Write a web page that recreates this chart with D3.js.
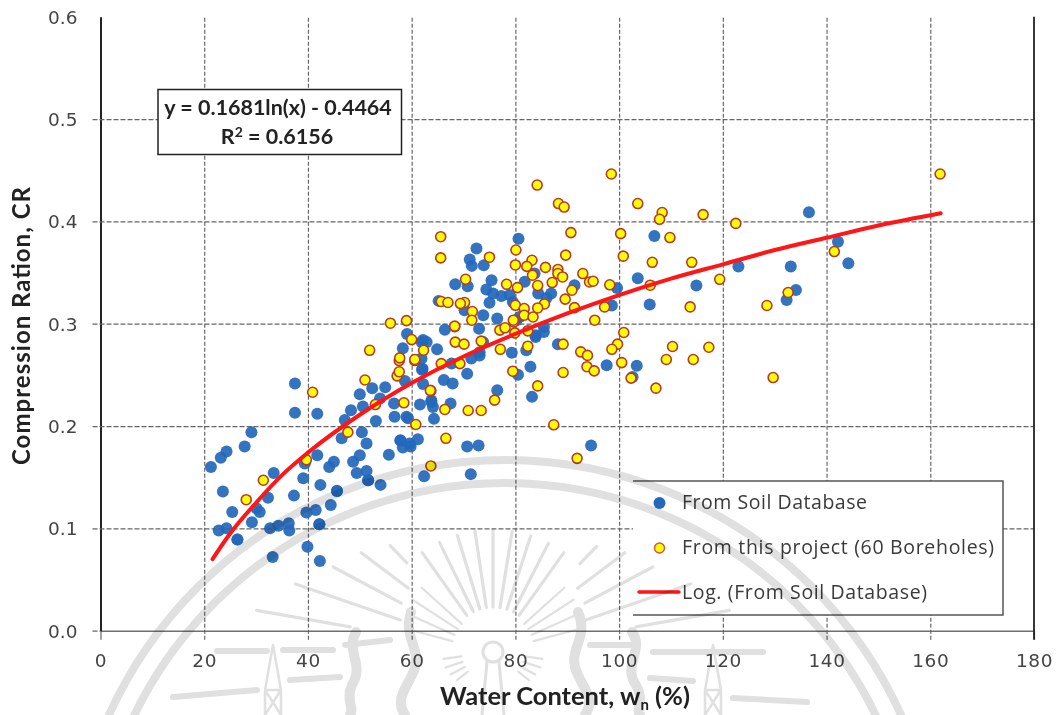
<!DOCTYPE html>
<html>
<head>
<meta charset="utf-8">
<script src="https://cdn.jsdelivr.net/npm/d3@7"></script>
<style>
body { margin: 0; background: #fff; }
svg { display: block; filter: blur(0.35px); }
</style>
</head>
<body>
<div id="chart"></div>
<script>
// VALUES: [water content, compression ratio]
var soilPoints = [[37.5,.2415],[37.5,.213],[41.8,.212],[29.1,.194],[27.8,.18],[24.3,.175],[23.2,.169],[21.3,.16],[23.6,.136],[25.4,.116],
  [22.8,.098],[24.3,.1],[26.4,.089],[26.4,.089],[29.2,.106],[30.7,.116],[30.1,.1195],[32.3,.13],[33.4,.154],[33.2,.072],[32.7,.1],[34.3,.1025],
  [36.3,.105],[36.4,.098],[37.3,.132],[39.1,.149],[39.4,.1635],[41.8,.1715],[42.4,.1425],[39.7,.1155],[41.5,.118],[44.4,.1228],[45.6,.1365],[45.6,.1365],
  [42.2,.104],[42.2,.104],[39.9,.082],[42.3,.068],[44.1,.16],[45,.165],[48.7,.165],[50,.1715],[51.3,.183],[49.4,.154],[51.3,.156],[51.6,.147],[51.6,.147],
  [54,.1425],[55.6,.172],[50.4,.194],[46.5,.188],[47.1,.206],[48.3,.2155],[50,.231],[52.4,.237],[54.9,.238],[50.6,.219],[53.9,.227],[53.1,.205],
  [56.6,.222],[56.7,.209],[59,.209],[57.8,.186],[59.6,.183],[58.3,.179],[61.2,.187],[61.6,.221],[62.2,.241],[62.1,.256],[63.8,.2235],[64.3,.207],
  [62.4,.151],[66.4,.294],[59.1,.29],[58.3,.276],[62.2,.284],[64.9,.275],[61.9,.266],[62,.255],[58.7,.244],[66.2,.245],[67.9,.2415],[70.7,.251],
  [67.7,.261],[71.5,.266],[73.1,.269],[79.3,.2715],[82.1,.274],[82.9,.258],[80.5,.25],[83.9,.287],[85.5,.292],[73,.295],[73.8,.282],[73.1,.272],
  [76.5,.235],[83.2,.2285],[88.2,.28],[63.8,.225],[64.1,.2187],[67.5,.222],[59.3,.2075],[57.9,.1855],[59.8,.18],[70.7,.18],[72.9,.181],[71.4,.153],
  [94.6,.181],[80.6,.383],[72.5,.3735],[71.2,.3627],[71.6,.3565],[73.9,.357],[68.4,.3386],[70.8,.3367],[75.4,.3425],[74.4,.3334],[75.7,.3295],[77.3,.327],
  [78.9,.328],[75,.3204],[79.5,.3213],[81.8,.341],[83.7,.349],[84.4,.3295],[86.9,.3295],[86,.325],[91.4,.3376],[73.8,.3083],[65.2,.3223],[70.2,.3132],
  [76.5,.305],[80.2,.3034],[85.5,.297],[83.9,.2888],[61.9,.282],[62.9,.282],[80.8,.3066],[136.6,.4089],[106.8,.3857],[142.2,.38],[123,.356],[133.1,.356],
  [144.2,.359],[134.1,.333],[132.3,.3232],[103.6,.3444],[114.9,.3373],[105.9,.3187],[99.6,.335],[98.6,.3178],[97.6,.2595],[103.4,.2588],[102.6,.248]];

var projectPoints = [[40.9,.233],[31.4,.147],[28.1,.128],[39.7,.167],[47.7,.194],[51,.245],[53,.221],[57.2,.249],[57.6,.264],[60.6,.264],[58.5,.2227],
  [60.8,.2015],[63.7,.2344],[63.7,.161],[51.9,.274],[57.7,.2666],[60.6,.265],[57.6,.253],[60,.2845],[62.3,.274],[68.3,.297],[68.4,.282],[70.1,.28],
  [73.4,.283],[77,.2937],[78,.296],[79.7,.3017],[82.4,.293],[79.9,.291],[77.1,.275],[82.4,.278],[89.2,.28],[92.6,.2725],[93.9,.269],[93.8,.258],
  [89.2,.2523],[79.5,.2536],[84.3,.2392],[76,.2253],[70.9,.2152],[73.4,.2152],[66.4,.2162],[63.6,.2348],[65.7,.261],[69.3,.261],[66.6,.188],
  [87.4,.2012],[91.9,.1684],[84.2,.4355],[88.3,.4174],[89.4,.414],[90.7,.389],[65.6,.385],[65.6,.3643],[80.1,.372],[75,.365],[89.7,.367],[83.2,.362],
  [80,.3574],[82.2,.356],[85.8,.355],[88.2,.353],[88.2,.349],[89.1,.3457],[83.3,.3474],[93,.349],[70.4,.3434],[78.3,.3385],[80.4,.3353],[84.3,.3373],
  [87.1,.3402],[90.9,.3327],[89.6,.324],[91.4,.3157],[85.6,.3193],[84.3,.3154],[80,.318],[81.7,.3148],[81.7,.3083],[83.4,.3066],[79.6,.3034],[70.2,.3207],
  [69.4,.3197],[65.7,.3217],[67,.3207],[71.7,.3119],[71.6,.3034],[68.3,.2976],[55.9,.3005],[59,.303],[94.3,.3408],[98.5,.4463],[103.6,.4174],[108.3,.4086],
  [107.8,.402],[116.2,.4066],[122.5,.398],[161.9,.4463],[100.3,.388],[109.8,.3842],[100.8,.366],[106.4,.36],[114,.36],[95,.3415],[98.2,.338],[106,.3376],
  [119.4,.3434],[97.2,.3164],[113.7,.3164],[128.5,.3178],[141.5,.3705],[132.6,.3305],[95.3,.3034],[100.9,.2914],[99.7,.28],[98.6,.275],[95.2,.2539],
  [100.5,.262],[102.3,.2468],[110.3,.2777],[109.1,.265],[114.3,.265],[117.3,.277],[107.1,.237],[129.7,.2474]];

// TREND LINE AS IT RUNS THROUGH THE PLOT
var trendPoints = [[21.6,.07],[25,.095],[30,.125],[35,.152],[40,.174],[50,.211],[60,.242],[70,.268],[80,.29],[90,.31],[100,.328],
  [110,.344],[120,.358],[130,.372],[140,.384],[150,.396],[162,.408]];

var xTicks = [0,20,40,60,80,100,120,140,160,180];
var yTicks = [0,0.1,0.2,0.3,0.4,0.5,0.6];
var legendLabels = ['From Soil Database','From this project (60 Boreholes)','Log. (From Soil Database)'];

// WATERMARK RAYS [angle, inner radius, outer radius]
var longRays = [[-80,145,240],[-71,98,209],[-62,104,181],[-53,106,165],[-44,124,148],[-35.5,45,122],[-26,45,122],[-17,45,122],[-8.5,45,122],[0,45,122],
  [9,45,122],[18,45,122],[27,45,122],[35.5,45,122],[44.5,124,148],[53,106,165],[62,104,181],[71,98,209],[80,145,240]];
var shortRays = [[-75,42,88],[-66,42,92],[-57,42,96],[-48,42,96],[48,42,96],[57,42,96],[66,42,92],[75,42,88],
  [-98,32,50],[-108,32,50],[-118,32,48],[-128,32,46],[98,32,50],[108,32,50],[118,32,48],[128,32,46]];
var wmDashes = [[217,651,267,651],[283,650,333,650],[290,680,340,677],[173,697,257,690],[653,652,763,652],[650,678,693,681],[733,698,807,702],[345,645,390,640],[590,645,635,645]];

var W = 1060, H = 715;

var svg = d3.select('#chart').append('svg')
    .attr('width', W)
    .attr('height', H);

var x = d3.scaleLinear().domain([0,180]).range([100.5,1034]);
var y = d3.scaleLinear().domain([0,0.6]).range([630.7,16.7]);

var plotH = y(0) - y(0.6);
var plotW = x(180) - x(0);

// X AXIS + VERTICAL GRID
var xAxis = svg.append('g')
    .attr('transform', 'translate(0,' + y(0) + ')')
    .call(d3.axisBottom(x).tickValues(xTicks).tickSize(9).tickSizeOuter(0).tickFormat(d3.format('d')));

xAxis.select('.domain').attr('stroke', '#6f6f6f').attr('stroke-width', 1.6);
xAxis.selectAll('.tick line')
    .attr('y1', 9)
    .attr('y2', function(d){ return (d == 0 || d == 180) ? 0 : -plotH; })
    .attr('stroke', '#666')
    .attr('stroke-width', 1.2)
    .attr('stroke-dasharray', function(d){ return (d == 0 || d == 180) ? null : '4 2'; });
xAxis.selectAll('.tick text')
    .attr('y', 36)
    .attr('dy', 0)
    .style('font-family', '"DejaVu Sans"')
    .style('font-size', '18.5px')
    .style('letter-spacing', '0.6px')
    .attr('fill', '#444');

// Y AXIS + HORIZONTAL GRID
var yAxis = svg.append('g')
    .attr('transform', 'translate(' + x(0) + ',0)')
    .call(d3.axisLeft(y).tickValues(yTicks).tickSize(9).tickSizeOuter(0).tickFormat(d3.format('.1f')));

yAxis.select('.domain').attr('stroke', '#222').attr('stroke-width', 2);
yAxis.selectAll('.tick line')
    .attr('x1', function(d){ return d == 0.6 ? 0 : -8; })
    .attr('x2', function(d){ return (d == 0 || d == 0.6) ? 0 : plotW; })
    .attr('stroke', '#666')
    .attr('stroke-width', 1.2)
    .attr('stroke-dasharray', '5 2');
yAxis.selectAll('.tick text')
    .attr('x', -23)
    .attr('dy', 6.5)
    .style('font-family', '"DejaVu Sans"')
    .style('font-size', '18.5px')
    .attr('fill', '#444');

// RIGHT EDGE OF THE PLOT
svg.append('line')
    .attr('x1', x(180)).attr('x2', x(180))
    .attr('y1', y(0.6)).attr('y2', y(0) + 9)
    .attr('stroke', '#222')
    .attr('stroke-width', 1.8);

// POINTS
svg.append('g').selectAll('circle')
    .data(soilPoints)
    .enter().append('circle')
    .attr('cx', function(d){ return x(d[0]); })
    .attr('cy', function(d){ return y(d[1]); })
    .attr('r', 6)
    .attr('fill', '#2468bb')
    .attr('fill-opacity', 0.93);

svg.append('g').selectAll('circle')
    .data(projectPoints)
    .enter().append('circle')
    .attr('cx', function(d){ return x(d[0]); })
    .attr('cy', function(d){ return y(d[1]); })
    .attr('r', 5)
    .attr('fill', '#ffff00')
    .attr('stroke', '#b8382c')
    .attr('stroke-width', 1.6);

// TREND LINE
var trend = d3.line()
    .x(function(d){ return x(d[0]); })
    .y(function(d){ return y(d[1]); })
    .curve(d3.curveMonotoneX);

svg.append('path')
    .datum(trendPoints)
    .attr('d', trend)
    .attr('fill', 'none')
    .attr('stroke', '#ff1616')
    .attr('stroke-width', 4)
    .attr('stroke-linecap', 'round');

// EQUATION BOX
svg.append('rect')
    .attr('x', 158).attr('y', 89.5)
    .attr('width', 243.5).attr('height', 65)
    .attr('fill', '#fff')
    .attr('stroke', '#222')
    .attr('stroke-width', 1.5);

var eq = svg.append('g')
    .style('font-family', 'Lato')
    .style('font-weight', 700)
    .style('font-size', '21.5px')
    .attr('fill', '#222')
    .attr('text-anchor', 'middle');

eq.append('text').attr('x', 278).attr('y', 115).text('y = 0.1681ln(x) - 0.4464');
var r2 = eq.append('text').attr('x', 277).attr('y', 144);
r2.append('tspan').text('R');
r2.append('tspan').attr('dy', -7).style('font-size', '14px').text('2');
r2.append('tspan').attr('dy', 7).text(' = 0.6156');

// LEGEND
var legend = svg.append('g');

legend.append('rect')
    .attr('x', 633).attr('y', 481)
    .attr('width', 370).attr('height', 134)
    .attr('fill', '#fff');
legend.append('path')
    .attr('d', 'M633,481H1003V615H633')
    .attr('fill', 'none')
    .attr('stroke', '#555')
    .attr('stroke-width', 1.5);

legend.append('circle').attr('cx', 659.5).attr('cy', 503).attr('r', 6).attr('fill', '#2468bb');
legend.append('circle').attr('cx', 659.5).attr('cy', 548).attr('r', 5)
    .attr('fill', '#ffff00').attr('stroke', '#d8503c').attr('stroke-width', 1.4);
legend.append('line').attr('x1', 639).attr('x2', 679).attr('y1', 592).attr('y2', 592)
    .attr('stroke', '#ff1616').attr('stroke-width', 3.5).attr('stroke-linecap', 'round');

var legendWidths = [185, 312, 245];
var legendBase = [509, 554, 599];

legend.selectAll('text')
    .data(legendLabels)
    .enter().append('text')
    .attr('x', 682)
    .attr('y', function(d,i){ return legendBase[i]; })
    .attr('textLength', function(d,i){ return legendWidths[i]; })
    .attr('lengthAdjust', 'spacing')
    .style('font-family', '"Open Sans"')
    .style('font-size', '19.5px')
    .attr('fill', '#3a3a3a')
    .text(function(d){ return d; });

// AXIS TITLES
var xTitle = svg.append('text')
    .attr('x', 440).attr('y', 705)
    .style('font-family', 'Lato')
    .style('font-weight', 700)
    .style('font-size', '25.5px')
    .attr('fill', '#222');
xTitle.append('tspan').text('Water Content, w');
xTitle.append('tspan').attr('dy', 5).style('font-size', '15px').text('n');
xTitle.append('tspan').attr('dy', -5).text(' (%)');

svg.append('text')
    .attr('transform', 'translate(30,465) rotate(-90)')
    .attr('textLength', 278)
    .attr('lengthAdjust', 'spacing')
    .style('font-family', 'Lato')
    .style('font-weight', 700)
    .style('font-size', '24px')
    .attr('fill', '#222')
    .text('Compression Ration, CR');

// WATERMARK, LAID OVER THE WHOLE PAGE
var wm = svg.append('g')
    .style('mix-blend-mode', 'multiply')
    .attr('fill', 'none')
    .attr('stroke', '#e0e0e0')
    .attr('stroke-linecap', 'round');

wm.append('circle').attr('cx', 505).attr('cy', 895).attr('r', 435).attr('stroke-width', 8);
wm.append('circle').attr('cx', 505).attr('cy', 895).attr('r', 412).attr('stroke-width', 8);

var sun = wm.append('g').attr('transform', 'translate(493,652)');

function rayLines(rays, width){
    sun.append('g').selectAll('line')
        .data(rays)
        .enter().append('line')
        .attr('x1', function(d){ return d[1]*Math.sin(d[0]*Math.PI/180); })
        .attr('y1', function(d){ return -d[1]*Math.cos(d[0]*Math.PI/180); })
        .attr('x2', function(d){ return d[2]*Math.sin(d[0]*Math.PI/180); })
        .attr('y2', function(d){ return -d[2]*Math.cos(d[0]*Math.PI/180); })
        .attr('stroke-width', width);
}
rayLines(longRays, 3.2);
rayLines(shortRays, 2.2);

sun.append('circle').attr('r', 10).attr('stroke-width', 3);
wm.append('path').attr('d', 'M487,662L482,715M499,662L504,715').attr('stroke-width', 3);

wm.append('g').selectAll('line')
    .data(wmDashes)
    .enter().append('line')
    .attr('x1', function(d){ return d[0]; })
    .attr('y1', function(d){ return d[1]; })
    .attr('x2', function(d){ return d[2]; })
    .attr('y2', function(d){ return d[3]; })
    .attr('stroke-width', 6);

// FLAMES EITHER SIDE OF THE SUN, TOWERS FURTHER OUT
wm.append('g').attr('stroke-width', 10)
    .selectAll('path')
    .data(['M411,612C402,640 425,650 412,675C405,690 395,700 405,715',
           'M356,632C345,650 365,665 352,685C345,700 355,708 350,715',
           'M578,612C590,640 565,650 578,675C585,690 595,700 585,715',
           'M632,632C645,650 622,665 636,685C645,700 635,708 640,715'])
    .enter().append('path')
    .attr('d', function(d){ return d; });

wm.append('path')
    .attr('d', 'M273,645L265,690V715M273,645L281,690V715M265,690H281M265,690L281,715M281,690L265,715')
    .attr('stroke-width', 2.5);
wm.append('path')
    .attr('d', 'M713,645L705,690V715M713,645L721,690V715M705,690H721M705,690L721,715M721,690L705,715')
    .attr('stroke-width', 2.5);
</script>
</body>
</html>
